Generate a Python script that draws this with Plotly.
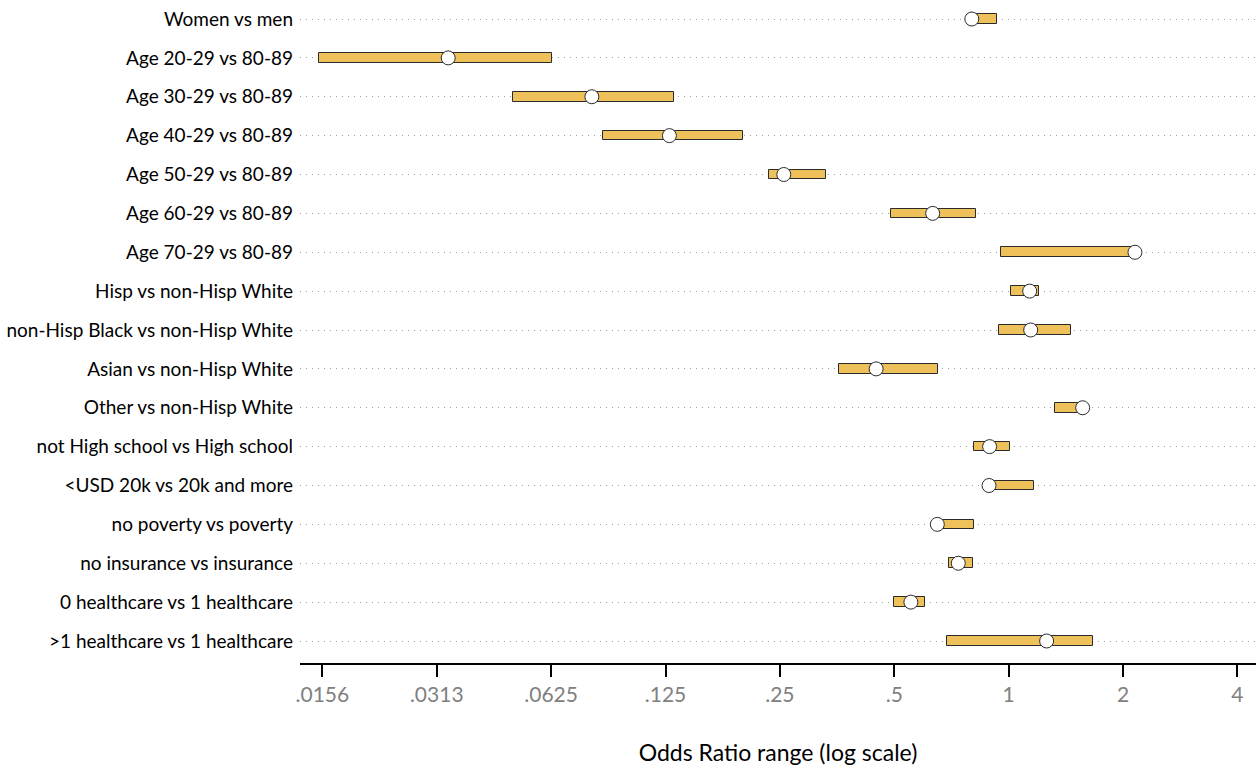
import plotly.graph_objects as go

# Comparisons, odds ratios and their confidence ranges
categories = [
    "Women vs men",
    "Age 20-29 vs 80-89",
    "Age 30-29 vs 80-89",
    "Age 40-29 vs 80-89",
    "Age 50-29 vs 80-89",
    "Age 60-29 vs 80-89",
    "Age 70-29 vs 80-89",
    "Hisp vs non-Hisp White",
    "non-Hisp Black vs non-Hisp White",
    "Asian vs non-Hisp White",
    "Other vs non-Hisp White",
    "not High school vs High school",
    "<USD 20k vs 20k and more",
    "no poverty vs poverty",
    "no insurance vs insurance",
    "0 healthcare vs 1 healthcare",
    ">1 healthcare vs 1 healthcare",
]
odds_ratio = [0.80, 0.0335, 0.080, 0.128, 0.256, 0.631, 2.15, 1.136, 1.143,
              0.448, 1.566, 0.891, 0.888, 0.649, 0.737, 0.553, 1.259]
ci_low = [0.785, 0.0153, 0.0497, 0.0858, 0.234, 0.491, 0.954, 1.012, 0.941,
          0.358, 1.321, 0.809, 0.87, 0.64, 0.695, 0.500, 0.689]
ci_high = [0.93, 0.0627, 0.132, 0.200, 0.330, 0.820, 2.16, 1.199, 1.461,
           0.652, 1.58, 1.010, 1.166, 0.812, 0.806, 0.602, 1.664]

tick_vals = [0.015625, 0.03125, 0.0625, 0.125, 0.25, 0.5, 1, 2, 4]
tick_text = [".0156", ".0313", ".0625", ".125", ".25", ".5", "1", "2", "4"]

FONT = "Lato"

fig = go.Figure()

# Range bars from the lower to the upper bound
fig.add_trace(go.Bar(
    y=categories,
    x=[h - l for l, h in zip(ci_low, ci_high)],
    base=ci_low,
    orientation="h",
    width=0.25,
    marker=dict(color="#EFC15B", line=dict(color="#2b2b2b", width=1)),
    hoverinfo="skip",
    showlegend=False,
))

# Point estimates
fig.add_trace(go.Scatter(
    y=categories,
    x=odds_ratio,
    mode="markers",
    marker=dict(symbol="circle", size=14, color="white",
                line=dict(color="#2b2b2b", width=1)),
    hoverinfo="skip",
    showlegend=False,
))

n = len(categories)
fig.update_layout(
    width=1260,
    height=768,
    margin=dict(l=300, r=4, t=0, b=105),
    paper_bgcolor="white",
    plot_bgcolor="white",
    font=dict(family=FONT, size=19, color="black"),
    bargap=0,
    xaxis=dict(
        type="log",
        range=[-1.865, 0.651],
        tickvals=tick_vals,
        ticktext=tick_text,
        tickfont=dict(family=FONT, size=21, color="#808080"),
        ticks="outside",
        ticklen=12,
        tickwidth=2,
        tickcolor="black",
        showline=True,
        linewidth=2,
        linecolor="black",
        showgrid=False,
        zeroline=False,
        title=dict(text="Odds Ratio range (log scale)",
                   font=dict(family=FONT, size=23, color="black"),
                   standoff=40),
    ),
    yaxis=dict(
        type="category",
        categoryorder="array",
        categoryarray=categories,
        range=[n - 1 + 0.566, -0.489],
        showgrid=True,
        gridcolor="#a0a0a0",
        gridwidth=1,
        griddash="1px,5px",
        showline=False,
        ticks="",
        ticklabelstandoff=6,
        tickfont=dict(family=FONT, size=19, color="black"),
        zeroline=False,
    ),
)

fig.write_html("out.html")
